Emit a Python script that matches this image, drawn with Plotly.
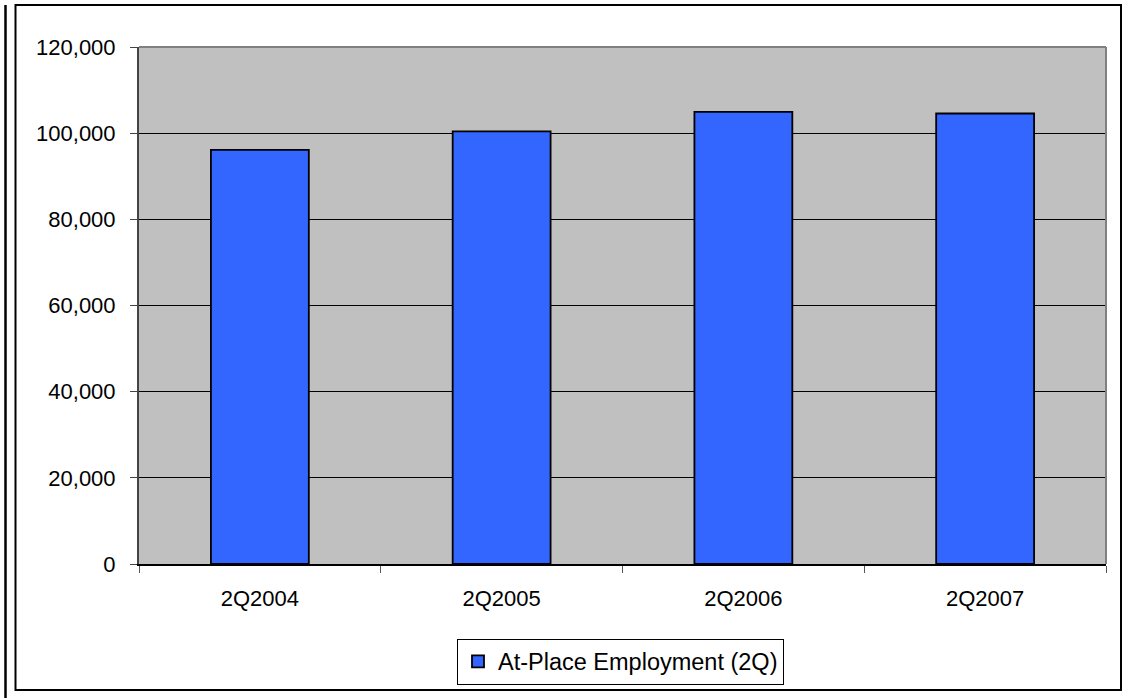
import plotly.graph_objects as go

categories = ["2Q2004", "2Q2005", "2Q2006", "2Q2007"]
employment = [96100, 100400, 104950, 104560]
series_name = "At-Place Employment (2Q)"
y_ticks = [0, 20000, 40000, 60000, 80000, 100000, 120000]

W, H = 1128, 698
L, R, T, B = 139, 1106, 47, 564

def px(x):
    return (x - L) / (R - L)

def py(y):
    return (B - y) / (B - T)

fig = go.Figure()
fig.add_trace(go.Bar(
    x=categories, y=employment, name=series_name,
    marker=dict(color="#3366FF", line=dict(color="black", width=1.8)),
    showlegend=True,
))

font = dict(family="Liberation Sans, Arial, sans-serif", size=22, color="black")
legend_font = dict(family="Liberation Sans, Arial, sans-serif", size=23.5, color="black")

fig.update_layout(
    width=W, height=H,
    margin=dict(l=L, r=W - R, t=T, b=H - B, pad=0),
    paper_bgcolor="white",
    plot_bgcolor="#C0C0C0",
    bargap=0.595,
    font=font,
    showlegend=True,
    legend=dict(
        x=px(620.5), y=py(661.5), xanchor="center", yanchor="middle",
        bordercolor="black", borderwidth=1, bgcolor="white",
        font=legend_font, itemwidth=30,
    ),
    xaxis=dict(
        type="category", showgrid=False, showline=True, linecolor="black", linewidth=1.5,
        ticks="outside", tickson="boundaries", ticklen=7, tickcolor="#555555",
        tickfont=font, ticklabelstandoff=14,
    ),
    yaxis=dict(
        range=[0, 120000], tickvals=y_ticks, tickformat=",",
        showgrid=True, gridcolor="black", gridwidth=1,
        showline=True, linecolor="#444444", linewidth=2,
        ticks="outside", ticklen=7, tickcolor="#444444",
        tickfont=font, zeroline=False, ticklabelstandoff=10,
    ),
    shapes=[
        dict(type="line", xref="paper", yref="paper", x0=0, x1=1, y0=1, y1=1,
             line=dict(color="#808080", width=2)),
        dict(type="line", xref="paper", yref="paper", x0=1, x1=1, y0=0, y1=1,
             line=dict(color="#808080", width=2)),
        dict(type="rect", xref="paper", yref="paper", x0=px(15.5), x1=px(1121), y0=py(690), y1=py(5),
             line=dict(color="black", width=2)),
        dict(type="line", xref="paper", yref="paper", x0=px(5.5), x1=px(5.5), y0=py(700), y1=py(5),
             line=dict(color="black", width=2.5)),
    ],
)

fig.write_html("out.html")
